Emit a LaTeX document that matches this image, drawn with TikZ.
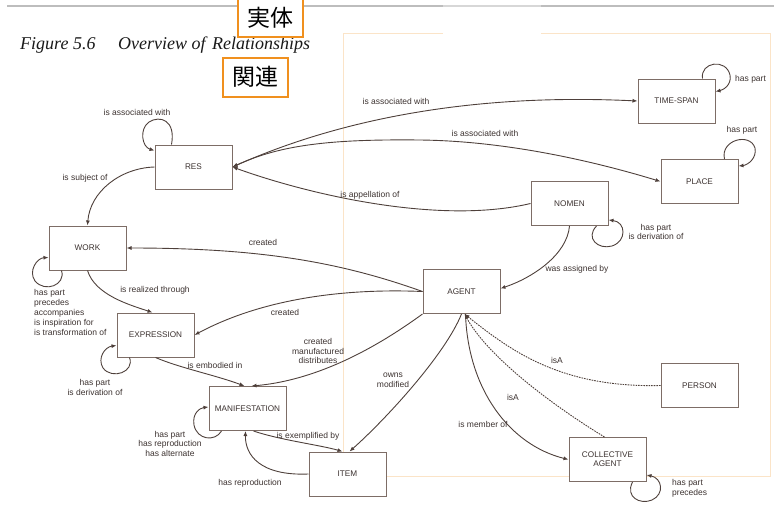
\documentclass[tikz,border=0pt]{standalone}
\usepackage{fontspec}
\setmainfont{Liberation Serif}
\newfontfamily\labfont{Liberation Sans}
\newfontfamily\cjkfont{Noto Sans CJK JP}
\usetikzlibrary{arrows.meta,calc}
\definecolor{edgecol}{HTML}{4E403B}
\definecolor{boxcol}{HTML}{7D6D66}
\definecolor{txtcol}{HTML}{3C3230}
\definecolor{tagorange}{HTML}{F0901E}
\definecolor{frameorange}{HTML}{FBE4C8}
\definecolor{rulegray}{HTML}{BDBDBD}
\begin{document}
\begin{tikzpicture}[x=1pt,y=-1pt,
  entity/.style={draw=boxcol,line width=1pt,fill=white,minimum width=77pt,
    minimum height=44pt,inner sep=0pt,text=txtcol,align=center,
    font=\labfont\fontsize{8.2}{9}\selectfont},
  rel/.style={draw=edgecol,line width=0.9pt,-{Latex[length=5pt,width=4pt]}},
  birel/.style={draw=edgecol,line width=0.9pt,{Latex[length=5pt,width=4pt]}-{Latex[length=5pt,width=4pt]}},
  isarel/.style={rel,dash pattern=on 1.6pt off 1pt},
  lbl/.style={font=\labfont\fontsize{8.5}{9.5}\selectfont,text=txtcol,inner sep=0pt},
  tag/.style={draw=tagorange,line width=2pt,fill=white,inner sep=0pt,
    minimum width=65pt,minimum height=39pt,font=\cjkfont\fontsize{23}{26}\selectfont},
  titletext/.style={font=\itshape\fontsize{18}{20}\selectfont,text=black!90,
    inner sep=0pt,anchor=base west}
]
\useasboundingbox (0,0) rectangle (774,512);

% page rule and faint frame
\draw[rulegray,line width=1.5pt] (7,6) -- (443,6);
\draw[rulegray!60,line width=1.5pt] (443,6) -- (541,6);
\draw[rulegray,line width=1.5pt] (541,6) -- (774,6);
\draw[frameorange,line width=0.8pt] (443,33) -- (343,33) -- (343,476) -- (770,476) -- (770,33) -- (541,33);

% title
\node[titletext] (t1) at (20,49) {Figure 5.6};
\node[titletext] (t2) at (118,49) {Overview of};
\node[titletext] (t3) at (212,49) {Relationships};

% tags
\node[tag] (tagA) at (270.5,17.5) {実体};
\node[tag] (tagB) at (255,77) {関連};

% entities
\node[entity] (res)    at (193.5,167)   {RES};
\node[entity] (work)   at (87.5,248)    {WORK};
\node[entity] (expr)   at (155.5,335)   {EXPRESSION};
\node[entity] (manif)  at (247.5,408.5) {MANIFESTATION};
\node[entity] (item)   at (347.5,474)   {ITEM};
\node[entity] (agent)  at (461.5,291.5) {AGENT};
\node[entity] (nomen)  at (569.5,203.5) {NOMEN};
\node[entity] (ts)     at (676.5,101)   {TIME-SPAN};
\node[entity] (place)  at (699.5,181.5) {PLACE};
\node[entity] (person) at (699.5,385.5) {PERSON};
\node[entity] (coll)   at (607.5,459.5) {COLLECTIVE\\AGENT};

% RES relations
\draw[rel] ($(res.north west)+(17,0)$) .. controls (176,120) and (160,115) .. (149,122)
  .. controls (139,129) and (142,147) .. ($(res.north west)+(0,6)$);
\node[lbl] (l-res) at (137,112) {is associated with};
\draw[rel] (res.west) .. controls (120,168) and (90,192) .. (work.north);
\node[lbl] (l-subj) at (85,178) {is subject of};
\draw[birel] (res.east) .. controls (320,128) and (450,92) .. (ts.west);
\node[lbl] (l-ts) at (396,101) {is associated with};
\draw[birel] (res.east) .. controls (280,145) and (330,139) .. (420,140)
  .. controls (510,141) and (600,163) .. (place.west);
\node[lbl] (l-pl) at (485,133) {is associated with};
\draw[rel] (nomen.west) .. controls (440,225) and (310,195) .. (res.east);
\node[lbl] (l-app) at (370,195) {is appellation of};

% TIME-SPAN, PLACE, NOMEN loops
\draw[rel] ($(ts.north east)+(-13,0)$) .. controls (700,62) and (726,58) .. (730,75)
  .. controls (732,85) and (723,90) .. ($(ts.north east)+(0,13)$);
\node[lbl,anchor=west] (l-ts2) at (735,79) {has part};
\draw[rel] ($(place.north west)+(64,0)$) .. controls (720,140) and (750,132) .. (755,148)
  .. controls (757,158) and (748,165) .. ($(place.north east)+(0,7)$);
\node[lbl] (l-pl2) at (742,130) {has part};
\draw[rel] ($(nomen.south east)+(-12,0)$) .. controls (585,238) and (598,250) .. (612,246)
  .. controls (627,241) and (626,222) .. ($(nomen.south east)+(0,-6)$);
\node[lbl,align=center] (l-nom) at (656,232) {has part\\is derivation of};
\draw[rel] (nomen.south) .. controls (567,255) and (532,278) .. ($(agent.east)+(0,-3)$);
\node[lbl] (l-assign) at (577,269) {was assigned by};

% AGENT relations
\draw[rel] (agent.west) .. controls (340,262) and (260,248) .. (work.east);
\node[lbl] (l-cr1) at (263,242) {created};
\draw[rel] (agent.west) .. controls (340,288) and (260,300) .. (expr.east);
\node[lbl] (l-cr2) at (285,312) {created};
\draw[rel] (agent.south west) .. controls (380,345) and (320,380) .. ($(manif.north)+(4,0)$);
\node[lbl,align=center] (l-cr3) at (318,351) {created\\manufactured\\distributes};
\draw[rel] (agent.south) .. controls (445,355) and (385,420) .. ($(item.north)+(2,0)$);
\node[lbl,align=center] (l-own) at (393,380) {owns\\modified};

% WORK, EXPRESSION, MANIFESTATION, ITEM
\draw[rel] (work.south) .. controls (95,295) and (130,305) .. ($(expr.north)+(-3,0)$);
\node[lbl] (l-real) at (155,290) {is realized through};
\draw[rel] ($(work.south west)+(13,0)$) .. controls (66,285) and (45,293) .. (35,281)
  .. controls (28,271) and (37,258) .. ($(work.north west)+(0,32)$);
\node[lbl,align=left,anchor=north west,font=\labfont\fontsize{8.5}{10}\selectfont] (l-work)
  at (34,289) {has part\\precedes\\accompanies\\is inspiration for\\is transformation of};
\draw[rel] ($(expr.south west)+(13,0)$) .. controls (135,372) and (112,380) .. (103,368)
  .. controls (97,358) and (105,347) .. ($(expr.north west)+(0,33)$);
\node[lbl,align=center] (l-expr) at (95,387.5) {has part\\is derivation of};
\draw[rel] (expr.south) .. controls (180,368) and (215,375) .. ($(manif.north)+(-3,0)$);
\node[lbl] (l-emb) at (215,365) {is embodied in};
\draw[rel] ($(manif.south west)+(13,0)$) .. controls (215,442) and (197,440) .. (194,425)
  .. controls (192,413) and (200,408) .. ($(manif.north west)+(0,21)$);
\node[lbl,align=center] (l-man) at (170,443.5) {has part\\has reproduction\\has alternate};
\draw[rel] ($(manif.south)+(6,0)$) .. controls (280,440) and (320,445) .. ($(item.north)+(-5,0)$);
\node[lbl] (l-ex) at (308,436) {is exemplified by};
\draw[rel] (item.west) .. controls (260,476) and (245,455) .. ($(manif.south)+(-2,0)$);
\node[lbl] (l-rep) at (250,483) {has reproduction};

% PERSON and COLLECTIVE AGENT
\draw[isarel] (person.west) .. controls (560,388) and (510,350) .. ($(agent.south)+(3,0)$);
\node[lbl] (l-isa1) at (557,360) {isA};
\draw[isarel] ($(coll.north)+(-3,0)$) .. controls (560,410) and (490,360) .. ($(agent.south)+(3,0)$);
\node[lbl] (l-isa2) at (513,397) {isA};
\draw[rel] ($(agent.south)+(4,0)$) .. controls (468,390) and (510,445) .. (coll.west);
\node[lbl] (l-mem) at (483,424) {is member of};
\draw[rel] ($(coll.south east)+(-14,0)$) .. controls (625,497) and (640,505) .. (652,500)
  .. controls (665,494) and (662,478) .. ($(coll.south east)+(0,-7)$);
\node[lbl,align=left,anchor=west] (l-coll) at (672,488.5) {has part\\precedes};
\end{tikzpicture}
\end{document}
